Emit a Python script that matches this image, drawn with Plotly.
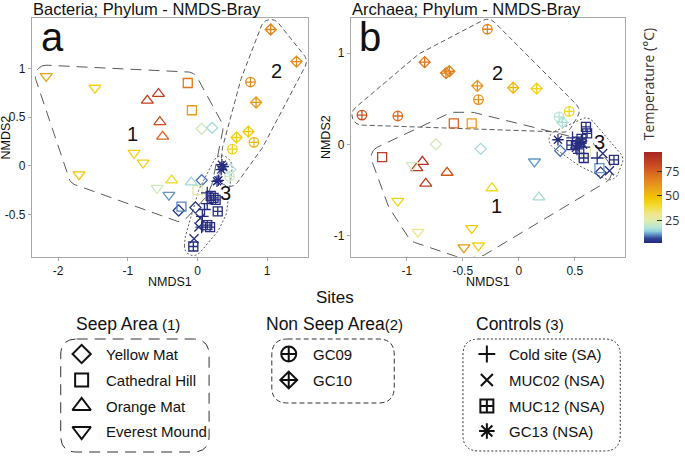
import math
import plotly.graph_objects as go

W, H = 685, 456
FONT = "Liberation Sans, Arial, Helvetica, sans-serif"

# ---------------- data: panel a (Bacteria) ----------------
a_site = (["Everest Mound"] * 7 + ["Orange Mat"] * 6 + ["Cathedral Hill"] * 4 +
          ["Yellow Mat"] * 6 + ["GC09"] * 4 + ["GC10"] * 5 +
          ["GC13 (NSA)"] * 5 + ["MUC12 (NSA)"] * 7 + ["Cold site (SA)"] * 5 + ["MUC02 (NSA)"] * 3)
a_x = [-2.17, -1.47, -0.91, -0.78, -1.70, -0.58, -0.41,
       -0.56, -0.72, -0.54, -0.50, -0.37, -0.09,
       -0.14, -0.08, 0.00, -0.23,
       0.06, 0.21, 0.06, -0.27, -0.03, 0.47,
       0.76, 0.81, 0.50, 0.46,
       1.05, 1.42, 0.84, 0.73, 0.56,
       0.35, 0.34, 0.30, 0.28, 0.37,
       0.19, 0.26, 0.29, 0.14, 0.18, -0.06, 0.23,
       0.14, 0.14, 0.07, 0.06, 0.10,
       0.04, -0.05, 0.02]
a_y = [0.92, 0.80, 0.13, 0.03, -0.09, -0.23, -0.30,
       0.74, 0.67, 0.45, 0.30, -0.15, -0.17,
       0.85, 0.57, -0.25, -0.42,
       0.38, 0.39, -0.15, -0.46, -0.43, -0.04,
       0.86, 0.24, 0.17, -0.11,
       1.40, 1.07, 0.65, 0.35, 0.29,
       0.01, -0.04, -0.15, -0.16, -0.01,
       -0.31, -0.35, -0.47, -0.61, -0.63, -0.83, -0.33,
       -0.28, -0.39, -0.52, -0.63, -0.45,
       -0.54, -0.75, -0.63]
a_temp = [58, 44, 44, 44, 48, 22, 11,
          86, 86, 80, 74, 42, 16,
          70, 60, 27, 10,
          22, 16, 9, 5, 5, 17,
          64, 52, 44, 22,
          66, 64, 60, 46, 44,
          3, 3, 3, 3, 3,
          3, 3, 3, 3, 3, 3, 3,
          3, 3, 3, 3, 3,
          3, 3, 3]
a_hull = [1] * 7 + [1] * 6 + [1] * 4 + [1, 1, 1, 1, 0, 2] + [2] * 4 + [2] * 5 + [3] * 20

# ---------------- data: panel b (Archaea) ----------------
b_site = (["GC09"] * 6 + ["GC10"] * 7 + ["Cathedral Hill"] * 5 + ["Yellow Mat"] * 4 +
          ["Orange Mat"] * 6 + ["Everest Mound"] * 7 +
          ["GC13 (NSA)"] * 4 + ["MUC12 (NSA)"] * 7 + ["Cold site (SA)"] * 5 + ["MUC02 (NSA)"] * 3)
b_x = [-0.28, -1.40, -1.08, -0.36, 0.45, 0.36,
       -0.84, -0.65, -0.62, -0.37, -0.05, 0.16, 0.39,
       -0.58, -0.42, -1.22, 0.72, 0.60,
       -0.74, -0.34, 0.37, 0.73,
       -0.86, -0.91, -0.64, -0.83, -0.24, 0.18,
       -0.95, 0.14, -1.08, -0.90, -0.42, -0.49, -0.36,
       0.35, 0.54, 0.51, 0.56,
       0.60, 0.61, 0.47, 0.58, 0.85, 0.52, 0.56,
       0.48, 0.54, 0.70, 0.58, 0.52,
       0.75, 0.81, 0.57]
b_y = [1.26, 0.32, 0.31, 0.49, 0.36, 0.30,
       0.90, 0.78, 0.80, 0.64, 0.62, 0.61, 0.24,
       0.23, 0.23, -0.14, -0.26, -0.08,
       0.00, -0.05, -0.07, -0.31,
       -0.19, -0.26, -0.31, -0.43, -0.48, -0.58,
       -0.23, -0.19, -0.62, -0.96, -0.92, -1.13, -1.11,
       0.05, 0.01, -0.04, 0.03,
       0.19, 0.12, -0.01, -0.15, -0.17, 0.03, 0.06,
       0.07, -0.10, -0.15, -0.03, -0.05,
       -0.10, -0.29, 0.00]
b_temp = [66, 80, 72, 62, 42, 18,
          70, 68, 66, 62, 52, 44, 17,
          74, 60, 86, 11, 28,
          23, 16, 9, 4,
          90, 88, 78, 86, 42, 16,
          23, 11, 44, 32, 46, 60, 44,
          3, 3, 3, 3,
          3, 3, 3, 3, 3, 3, 3,
          3, 3, 3, 3, 3,
          3, 3, 3]
b_hull = [2] * 13 + [1] * 22 + [3] * 19

sites = ["Yellow Mat", "Cathedral Hill", "Orange Mat", "Everest Mound", "GC09", "GC10",
         "Cold site (SA)", "MUC02 (NSA)", "MUC12 (NSA)", "GC13 (NSA)"]
symbols = {"Yellow Mat": "diamond-open", "Cathedral Hill": "square-open",
           "Orange Mat": "triangle-up-open", "Everest Mound": "triangle-down-open",
           "GC09": "circle-cross-open", "GC10": "diamond-cross-open",
           "Cold site (SA)": "cross-thin-open", "MUC02 (NSA)": "x-thin-open",
           "MUC12 (NSA)": "square-cross-open", "GC13 (NSA)": "asterisk-open"}
sizes = {"Yellow Mat": 8.5, "Cathedral Hill": 9, "Orange Mat": 10.5, "Everest Mound": 10.5,
         "GC09": 9.5, "GC10": 8.5, "Cold site (SA)": 9, "MUC02 (NSA)": 9,
         "MUC12 (NSA)": 9, "GC13 (NSA)": 9.5}
leg_sizes = {"Yellow Mat": 14, "Cathedral Hill": 13, "Orange Mat": 16, "Everest Mound": 16,
             "GC09": 15, "GC10": 13, "Cold site (SA)": 12, "MUC02 (NSA)": 12,
             "MUC12 (NSA)": 13, "GC13 (NSA)": 13}

CMIN, CMAX = 2, 95
cscale = [[0.00, "#23277a"], [0.05, "#2f4596"], [0.09, "#5b8cc4"], [0.13, "#93d0de"],
          [0.17, "#b4e6d8"], [0.24, "#dcecb0"], [0.32, "#efe68c"], [0.42, "#f3da2a"],
          [0.50, "#f2c400"], [0.60, "#eca21a"], [0.72, "#e07a1e"], [0.85, "#cc4a20"],
          [1.00, "#a82424"]]

# panel geometry (pixels)
A_L, A_R, A_T, A_B = 32, 309, 18, 257
B_L, B_R, B_T, B_B = 352.3, 627.7, 18.3, 256.7
A_XR, A_YR = [-2.376, 1.58], [-0.938, 1.518]
B_XR, B_YR = [-1.5, 0.948], [-1.231, 1.38]
LEG_TOP = 285


def convex_hull(pts):
    pts = sorted(set(pts))
    if len(pts) < 3:
        return pts

    def cross(o, a, b):
        return (a[0] - o[0]) * (b[1] - o[1]) - (a[1] - o[1]) * (b[0] - o[0])
    lower, upper = [], []
    for p in pts:
        while len(lower) >= 2 and cross(lower[-2], lower[-1], p) <= 0:
            lower.pop()
        lower.append(p)
    for p in reversed(pts):
        while len(upper) >= 2 and cross(upper[-2], upper[-1], p) <= 0:
            upper.pop()
        upper.append(p)
    return lower[:-1] + upper[:-1]


def rounded_hull(xs, ys, sx, sy, r):
    pts = [(x * sx, y * sy) for x, y in zip(xs, ys)]
    hull = convex_hull(pts)
    m = len(hull)
    ox, oy = [], []
    for i in range(m):
        pp, p, pn = hull[i - 1], hull[i], hull[(i + 1) % m]
        n1 = math.atan2(-(p[0] - pp[0]), p[1] - pp[1])
        n2 = math.atan2(-(pn[0] - p[0]), pn[1] - p[1])
        if n2 < n1:
            n2 += 2 * math.pi
        k = max(2, int((n2 - n1) / 0.12) + 1)
        for j in range(k):
            t = n1 + (n2 - n1) * j / (k - 1)
            ox.append((p[0] + r * math.cos(t)) / sx)
            oy.append((p[1] + r * math.sin(t)) / sy)
    ox.append(ox[0])
    oy.append(oy[0])
    return ox, oy


fig = go.Figure()

hull_dash = {1: "11px,7px", 2: "5px,3px", 3: "2px,2px"}
hull_pad = {1: 11, 2: 10, 3: 9}


def add_panel(site, xs, ys, temps, hulls, xref, yref, geom, xr, yr, showscale):
    L, R, T, B = geom
    sx = (R - L) / (xr[1] - xr[0])
    sy = (B - T) / (yr[1] - yr[0])
    for h in (1, 2, 3):
        hx = [x for x, g in zip(xs, hulls) if g == h]
        hy = [y for y, g in zip(ys, hulls) if g == h]
        ox, oy = rounded_hull(hx, hy, sx, sy, hull_pad[h])
        fig.add_trace(go.Scatter(x=ox, y=oy, mode="lines", xaxis=xref, yaxis=yref,
                                 line=dict(color="#5a5a5a", width=1, dash=hull_dash[h]),
                                 showlegend=False, hoverinfo="skip"))
    first = True
    for s in sites:
        idx = [i for i, v in enumerate(site) if v == s]
        if not idx:
            continue
        marker = dict(symbol=symbols[s], size=sizes[s], color=[temps[i] for i in idx],
                      colorscale=cscale, cmin=CMIN, cmax=CMAX, line=dict(width=1.3))
        if showscale and first:
            marker.update(showscale=True, colorbar=dict(
                x=647 / W, xanchor="left", xpad=0, ypad=0,
                y=1 - 197.2 / H, yanchor="middle", len=91 / H, lenmode="fraction",
                thickness=18, thicknessmode="pixels", outlinewidth=0,
                tickvals=[25, 50, 75], ticks="inside", ticklen=5, tickcolor="#333333",
                tickwidth=1.2,
                tickfont=dict(family="Open Sans, Noto Sans, sans-serif", size=12.5, color="#333333")))
            first = False
        fig.add_trace(go.Scatter(x=[xs[i] for i in idx], y=[ys[i] for i in idx], mode="markers",
                                 xaxis=xref, yaxis=yref, marker=marker, name=s, showlegend=False))


add_panel(a_site, a_x, a_y, a_temp, a_hull, "x", "y", (A_L, A_R, A_T, A_B), A_XR, A_YR, True)
add_panel(b_site, b_x, b_y, b_temp, b_hull, "x2", "y2", (B_L, B_R, B_T, B_B), B_XR, B_YR, False)

# ---------------- custom legend (pixel-space overlay axis at the bottom) ----------------
leg_groups = [
    ("Seep Area", " (1)", 74, ["Yellow Mat", "Cathedral Hill", "Orange Mat", "Everest Mound"],
     82, 104, (61, 210, 339, 452), "11px,7px"),
    ("Non Seep Area", "(2)", 265, ["GC09", "GC10"], 290, 312, (273, 396, 339, 403), "5px,3px"),
    ("Controls", " (3)", 476, ["Cold site (SA)", "MUC02 (NSA)", "MUC12 (NSA)", "GC13 (NSA)"],
     489, 509, (465, 623, 339, 451), "2px,2px"),
]
item_y = [354, 380, 406, 431]

annotations = []
shapes = []


def rr_path(x0, x1, y0, y1, r):
    return (f"M{x0 + r},{y0} L{x1 - r},{y0} Q{x1},{y0} {x1},{y0 + r} L{x1},{y1 - r} "
            f"Q{x1},{y1} {x1 - r},{y1} L{x0 + r},{y1} Q{x0},{y1} {x0},{y1 - r} "
            f"L{x0},{y0 + r} Q{x0},{y0} {x0 + r},{y0} Z")


for title, num, tx, items, symx, textx, box, dash in leg_groups:
    annotations.append(dict(x=tx, y=324, xref="x3", yref="y3", xanchor="left", yanchor="middle",
                            text=f"{title}<span style='font-size:15px'>{num}</span>",
                            showarrow=False, font=dict(family=FONT, size=17.5, color="#111111")))
    for k, s in enumerate(items):
        fig.add_trace(go.Scatter(x=[symx], y=[item_y[k]], mode="markers", xaxis="x3", yaxis="y3",
                                 marker=dict(symbol=symbols[s], size=leg_sizes[s], color="#111111",
                                             line=dict(width=2, color="#111111")),
                                 showlegend=False, hoverinfo="skip", cliponaxis=False))
        annotations.append(dict(x=textx, y=item_y[k], xref="x3", yref="y3", xanchor="left",
                                yanchor="middle", text=s, showarrow=False,
                                font=dict(family=FONT, size=15, color="#111111")))
    x0, x1, y0, y1 = box
    shapes.append(dict(type="path", xref="x3", yref="y3", path=rr_path(x0, x1, y0, y1, 16),
                       line=dict(color="#333333", width=1, dash=dash)))

annotations.append(dict(x=336, y=297, xref="x3", yref="y3", text="Sites", showarrow=False,
                        xanchor="center", yanchor="middle",
                        font=dict(family=FONT, size=17, color="#111111")))


def pa(x, y, text, size, xanchor="center", yanchor="middle", angle=0, family=FONT, color="#111111"):
    annotations.append(dict(x=x / W, y=1 - y / H, xref="paper", yref="paper", text=text,
                            showarrow=False, xanchor=xanchor, yanchor=yanchor, textangle=angle,
                            font=dict(family=family, size=size, color=color)))


pa(31, 9, "Bacteria; Phylum - NMDS-Bray", 16.5, xanchor="left")
pa(352, 9, "Archaea; Phylum - NMDS-Bray", 16.5, xanchor="left")
pa((A_L + A_R) / 2, 282, "NMDS1", 12.5)
pa((B_L + B_R) / 2, 282, "NMDS1", 12.5)
pa(6, 137.5, "NMDS2", 12.5, angle=-90)
pa(327, 137.5, "NMDS2", 12.5, angle=-90)
pa(39, 37, "a", 40, xanchor="left")
pa(359, 37, "b", 40, xanchor="left")
pa(651, 84, "Temperature (°C)", 14, angle=-90, family="Open Sans, Noto Sans, sans-serif",
   color="#333333")

for txt, x, y, xr, yr in [("1", -0.93, 0.33, "x", "y"), ("2", 1.13, 0.97, "x", "y"),
                          ("3", 0.40, -0.28, "x", "y"), ("2", -0.19, 0.78, "x2", "y2"),
                          ("1", -0.20, -0.68, "x2", "y2"), ("3", 0.72, 0.03, "x2", "y2")]:
    annotations.append(dict(x=x, y=y, xref=xr, yref=yr, text=txt, showarrow=False,
                            font=dict(family=FONT, size=20, color="#111111")))

axis_common = dict(showgrid=False, zeroline=False, showline=True, mirror=True,
                   linecolor="#a8a8a8", linewidth=1, ticks="outside", ticklen=3,
                   tickcolor="#a8a8a8", tickfont=dict(family=FONT, size=12, color="#1a1a1a"),
                   fixedrange=True)

fig.update_layout(
    width=W, height=H, margin=dict(l=0, r=0, t=0, b=0),
    paper_bgcolor="white", plot_bgcolor="rgba(0,0,0,0)", showlegend=False,
    xaxis=dict(domain=[A_L / W, A_R / W], range=A_XR, tickvals=[-2, -1, 0, 1],
               ticktext=["-2", "-1", "0", "1"], anchor="y", **axis_common),
    yaxis=dict(domain=[1 - A_B / H, 1 - A_T / H], range=A_YR, tickvals=[-0.5, 0, 0.5, 1],
               ticktext=["-0.5", "0", "0.5", "1"], anchor="x", **axis_common),
    xaxis2=dict(domain=[B_L / W, B_R / W], range=B_XR, tickvals=[-1, -0.5, 0, 0.5],
                ticktext=["-1", "-0.5", "0", "0.5"], anchor="y2", **axis_common),
    yaxis2=dict(domain=[1 - B_B / H, 1 - B_T / H], range=B_YR, tickvals=[-1, 0, 1],
                ticktext=["-1", "0", "1"], anchor="x2", **axis_common),
    xaxis3=dict(domain=[0, 1], range=[0, W], visible=False, anchor="y3", fixedrange=True),
    yaxis3=dict(domain=[0, 1 - LEG_TOP / H], range=[H, LEG_TOP], visible=False, anchor="x3",
                fixedrange=True),
    annotations=annotations, shapes=shapes,
)

fig.write_html("out.html", config={"displayModeBar": False},
               post_script="document.body.style.margin='0px';")
